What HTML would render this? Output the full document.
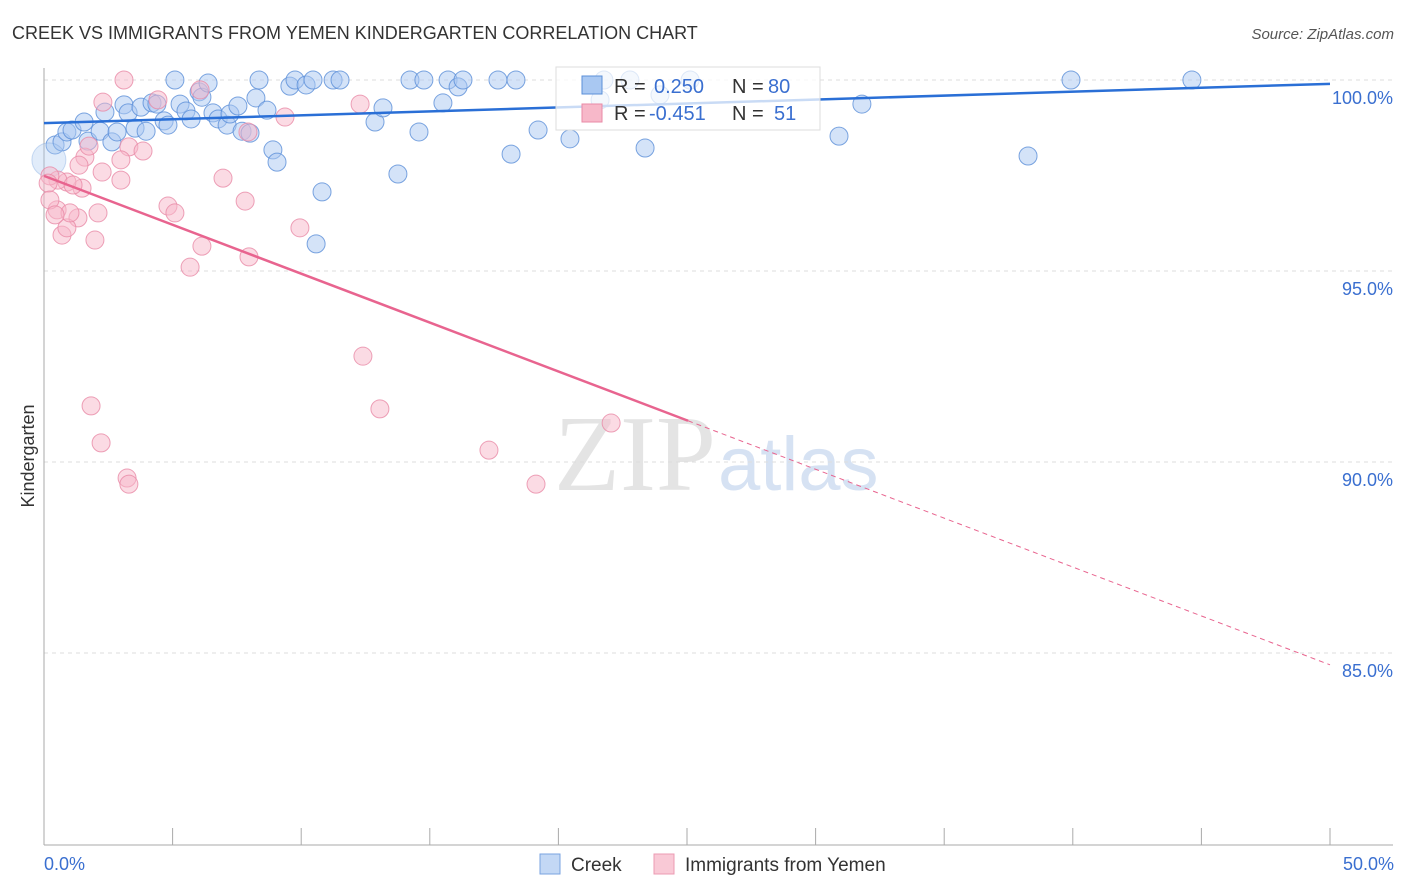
<!DOCTYPE html>
<html><head><meta charset="utf-8">
<style>
body{margin:0;background:#fff;font-family:"Liberation Sans",sans-serif;}
svg{display:block}
</style></head>
<body>
<svg id="chart" width="1406" height="892" xmlns="http://www.w3.org/2000/svg">
<text x="12" y="39" font-size="18" fill="#333">CREEK VS IMMIGRANTS FROM YEMEN KINDERGARTEN CORRELATION CHART</text>
<text x="1394" y="39" font-size="15" fill="#555" font-style="italic" text-anchor="end">Source: ZipAtlas.com</text>
<text x="716" y="490" font-size="108" fill="#e4e4e4" text-anchor="end" font-family="Liberation Serif,serif">ZIP</text>
<text x="718" y="490" font-size="76" fill="#d6e2f3">atlas</text>
<g id="grid"></g>
<g id="axes"></g>
<g id="pts"></g>
<g id="trends"></g>
<text transform="translate(34,456) rotate(-90)" font-size="18" fill="#333" text-anchor="middle">Kindergarten</text>
<g>
<rect x="556" y="67" width="264" height="63" fill="#fff" fill-opacity="0.75" stroke="#ddd"/>
<rect x="582" y="76" width="20" height="18" fill="#a9c8f2" stroke="#5b8fd8"/>
<rect x="582" y="104" width="20" height="18" fill="#f7b8c9" stroke="#e88aa6"/>
<text x="614" y="93" font-size="20" fill="#333">R = </text><text x="654" y="93" font-size="20" fill="#3a6fd0">0.250</text>
<text x="732" y="93" font-size="20" fill="#333">N = </text><text x="768" y="93" font-size="20" fill="#3a6fd0">80</text>
<text x="614" y="120" font-size="20" fill="#333">R = </text><text x="649" y="120" font-size="20" fill="#3a6fd0">-0.451</text>
<text x="732" y="120" font-size="20" fill="#333">N = </text><text x="774" y="120" font-size="20" fill="#3a6fd0">51</text>
</g>
<g>
<rect x="540" y="854" width="20" height="20" fill="#c3d8f5" stroke="#7aa3e0"/>
<text x="571" y="871" font-size="19" fill="#333">Creek</text>
<rect x="654" y="854" width="20" height="20" fill="#f9c9d6" stroke="#ec9bb3"/>
<text x="685" y="871" font-size="19" fill="#333">Immigrants from Yemen</text>
</g>
</svg>
<script>
const yTicks=[100,95,90,85];
const yTickLabels=["100.0%","95.0%","90.0%","85.0%"];
const xEndLabels=["0.0%","50.0%"];
const creekX=[0.43,0.70,0.89,1.09,1.56,1.71,2.18,2.37,2.64,2.84,3.11,3.27,3.54,3.77,3.97,4.20,4.39,4.67,4.82,5.09,5.29,5.52,5.72,6.03,6.14,6.38,6.57,6.77,7.12,7.23,7.54,7.70,8.01,8.24,8.36,8.67,8.90,9.06,9.56,9.76,10.19,10.46,10.58,10.81,11.24,11.51,12.87,13.18,13.76,14.23,14.58,14.77,15.51,15.71,16.10,16.29,17.65,18.16,18.35,19.21,20.45,21.62,21.77,22.78,23.37,23.95,25.12,30.91,31.80,38.26,39.93,44.63,0.19];
const creekY=[98.30,98.38,98.64,98.69,98.90,98.40,98.66,99.16,98.38,98.64,99.35,99.14,98.74,99.29,98.66,99.40,99.37,98.93,98.82,100,99.37,99.19,98.98,99.69,99.55,99.92,99.14,98.98,98.82,99.11,99.32,98.66,98.61,99.53,100,99.21,98.17,97.85,99.84,100,99.87,100,95.71,97.07,100,100,98.90,99.27,97.54,100,98.64,100,99.40,100,99.82,100,100,98.06,100,98.69,98.46,99.48,100,100,98.22,99.61,100,98.53,99.37,98.01,100,100,97.91];
const yemenX=[3.11,2.29,3.30,3.85,2.99,2.26,2.99,1.59,1.75,1.36,1.48,0.89,0.54,0.23,0.16,1.13,2.10,1.32,0.51,0.70,0.89,1.98,4.82,5.09,6.96,7.82,6.07,5.68,6.14,7.97,9.37,9.95,12.29,12.40,13.06,1.83,2.22,3.23,3.30,17.30,19.13,22.05,7.93,4.43,0.23,1.01,0.43];
const yemenY=[100,99.42,98.25,98.14,97.91,97.59,97.38,97.98,98.27,97.77,97.17,97.33,97.38,97.49,97.30,97.25,96.52,96.39,96.60,95.94,96.13,95.81,96.70,96.52,97.43,96.83,99.74,95.10,95.65,95.37,99.03,96.13,99.37,92.77,91.39,91.47,90.50,89.58,89.42,90.31,89.42,91.02,98.64,99.48,96.86,96.52,96.47];
const creekTrend=[98.87,99.90];
const yemenTrend=[97.49,84.69];
const yemenSolidEnd=25.04;

const X=v=>44+v/50*1286;
const Y=v=>80+(100-v)/5*191;
const NS="http://www.w3.org/2000/svg";
function mk(tag,attrs,parent){const e=document.createElementNS(NS,tag);for(const k in attrs)e.setAttribute(k,attrs[k]);parent.appendChild(e);return e;}
const grid=document.getElementById('grid'),axes=document.getElementById('axes'),pts=document.getElementById('pts'),tr=document.getElementById('trends');
yTicks.forEach((t,i)=>{
  const l=mk('line',{x1:44,x2:1393,y1:Y(t),y2:Y(t),stroke:'#ddd','stroke-dasharray':'4,4'},grid);
  
  
  const tx=mk('text',{x:1393,y:Y(t)+24,'font-size':18,fill:'#3a6fd0','text-anchor':'end'},axes);
  tx.textContent=yTickLabels[i];
  
  
});
const ya=mk('line',{x1:44,x2:44,y1:68,y2:845,stroke:'#aaa'},axes);


const xa=mk('line',{x1:44,x2:1393,y1:845,y2:845,stroke:'#aaa'},axes);


for(let i=0;i<=10;i++){
  const tk=mk('line',{x1:X(i*5),x2:X(i*5),y1:828,y2:845,stroke:'#aaa'},axes);
  
  
}
[[0,'start',44],[50,'end',1394]].forEach((d,i)=>{
  const tx=mk('text',{x:d[2],y:870,'font-size':18,fill:'#3a6fd0','text-anchor':d[1]},axes);
  tx.textContent=xEndLabels[i];
  
  
});
creekX.forEach((x,i)=>{
  const big=(i===creekX.length-1);
  const c=mk('circle',{cx:X(x),cy:Y(creekY[i]),r:big?17:9,fill:'#a9c8f2','fill-opacity':big?0.35:0.5,stroke:'#5b8fd8','stroke-opacity':big?0.3:0.8},pts);
  
  
});
yemenX.forEach((x,i)=>{
  const c=mk('circle',{cx:X(x),cy:Y(yemenY[i]),r:9,fill:'#f7b8c9','fill-opacity':0.5,stroke:'#e88aa6','stroke-opacity':0.8},pts);
  
  
});
const bt=mk('line',{x1:X(0),y1:Y(creekTrend[0]),x2:X(50),y2:Y(creekTrend[1]),stroke:'#2a6fd6','stroke-width':2.5},tr);


const yAt=x=>yemenTrend[0]+(yemenTrend[1]-yemenTrend[0])*x/50;
const pt=mk('line',{x1:X(0),y1:Y(yemenTrend[0]),x2:X(yemenSolidEnd),y2:Y(yAt(yemenSolidEnd)),stroke:'#e8648f','stroke-width':2.5},tr);


const pd=mk('line',{x1:X(yemenSolidEnd),y1:Y(yAt(yemenSolidEnd)),x2:X(50),y2:Y(yemenTrend[1]),stroke:'#e8648f','stroke-width':1,'stroke-dasharray':'5,4'},tr);


</script>
</body></html>
